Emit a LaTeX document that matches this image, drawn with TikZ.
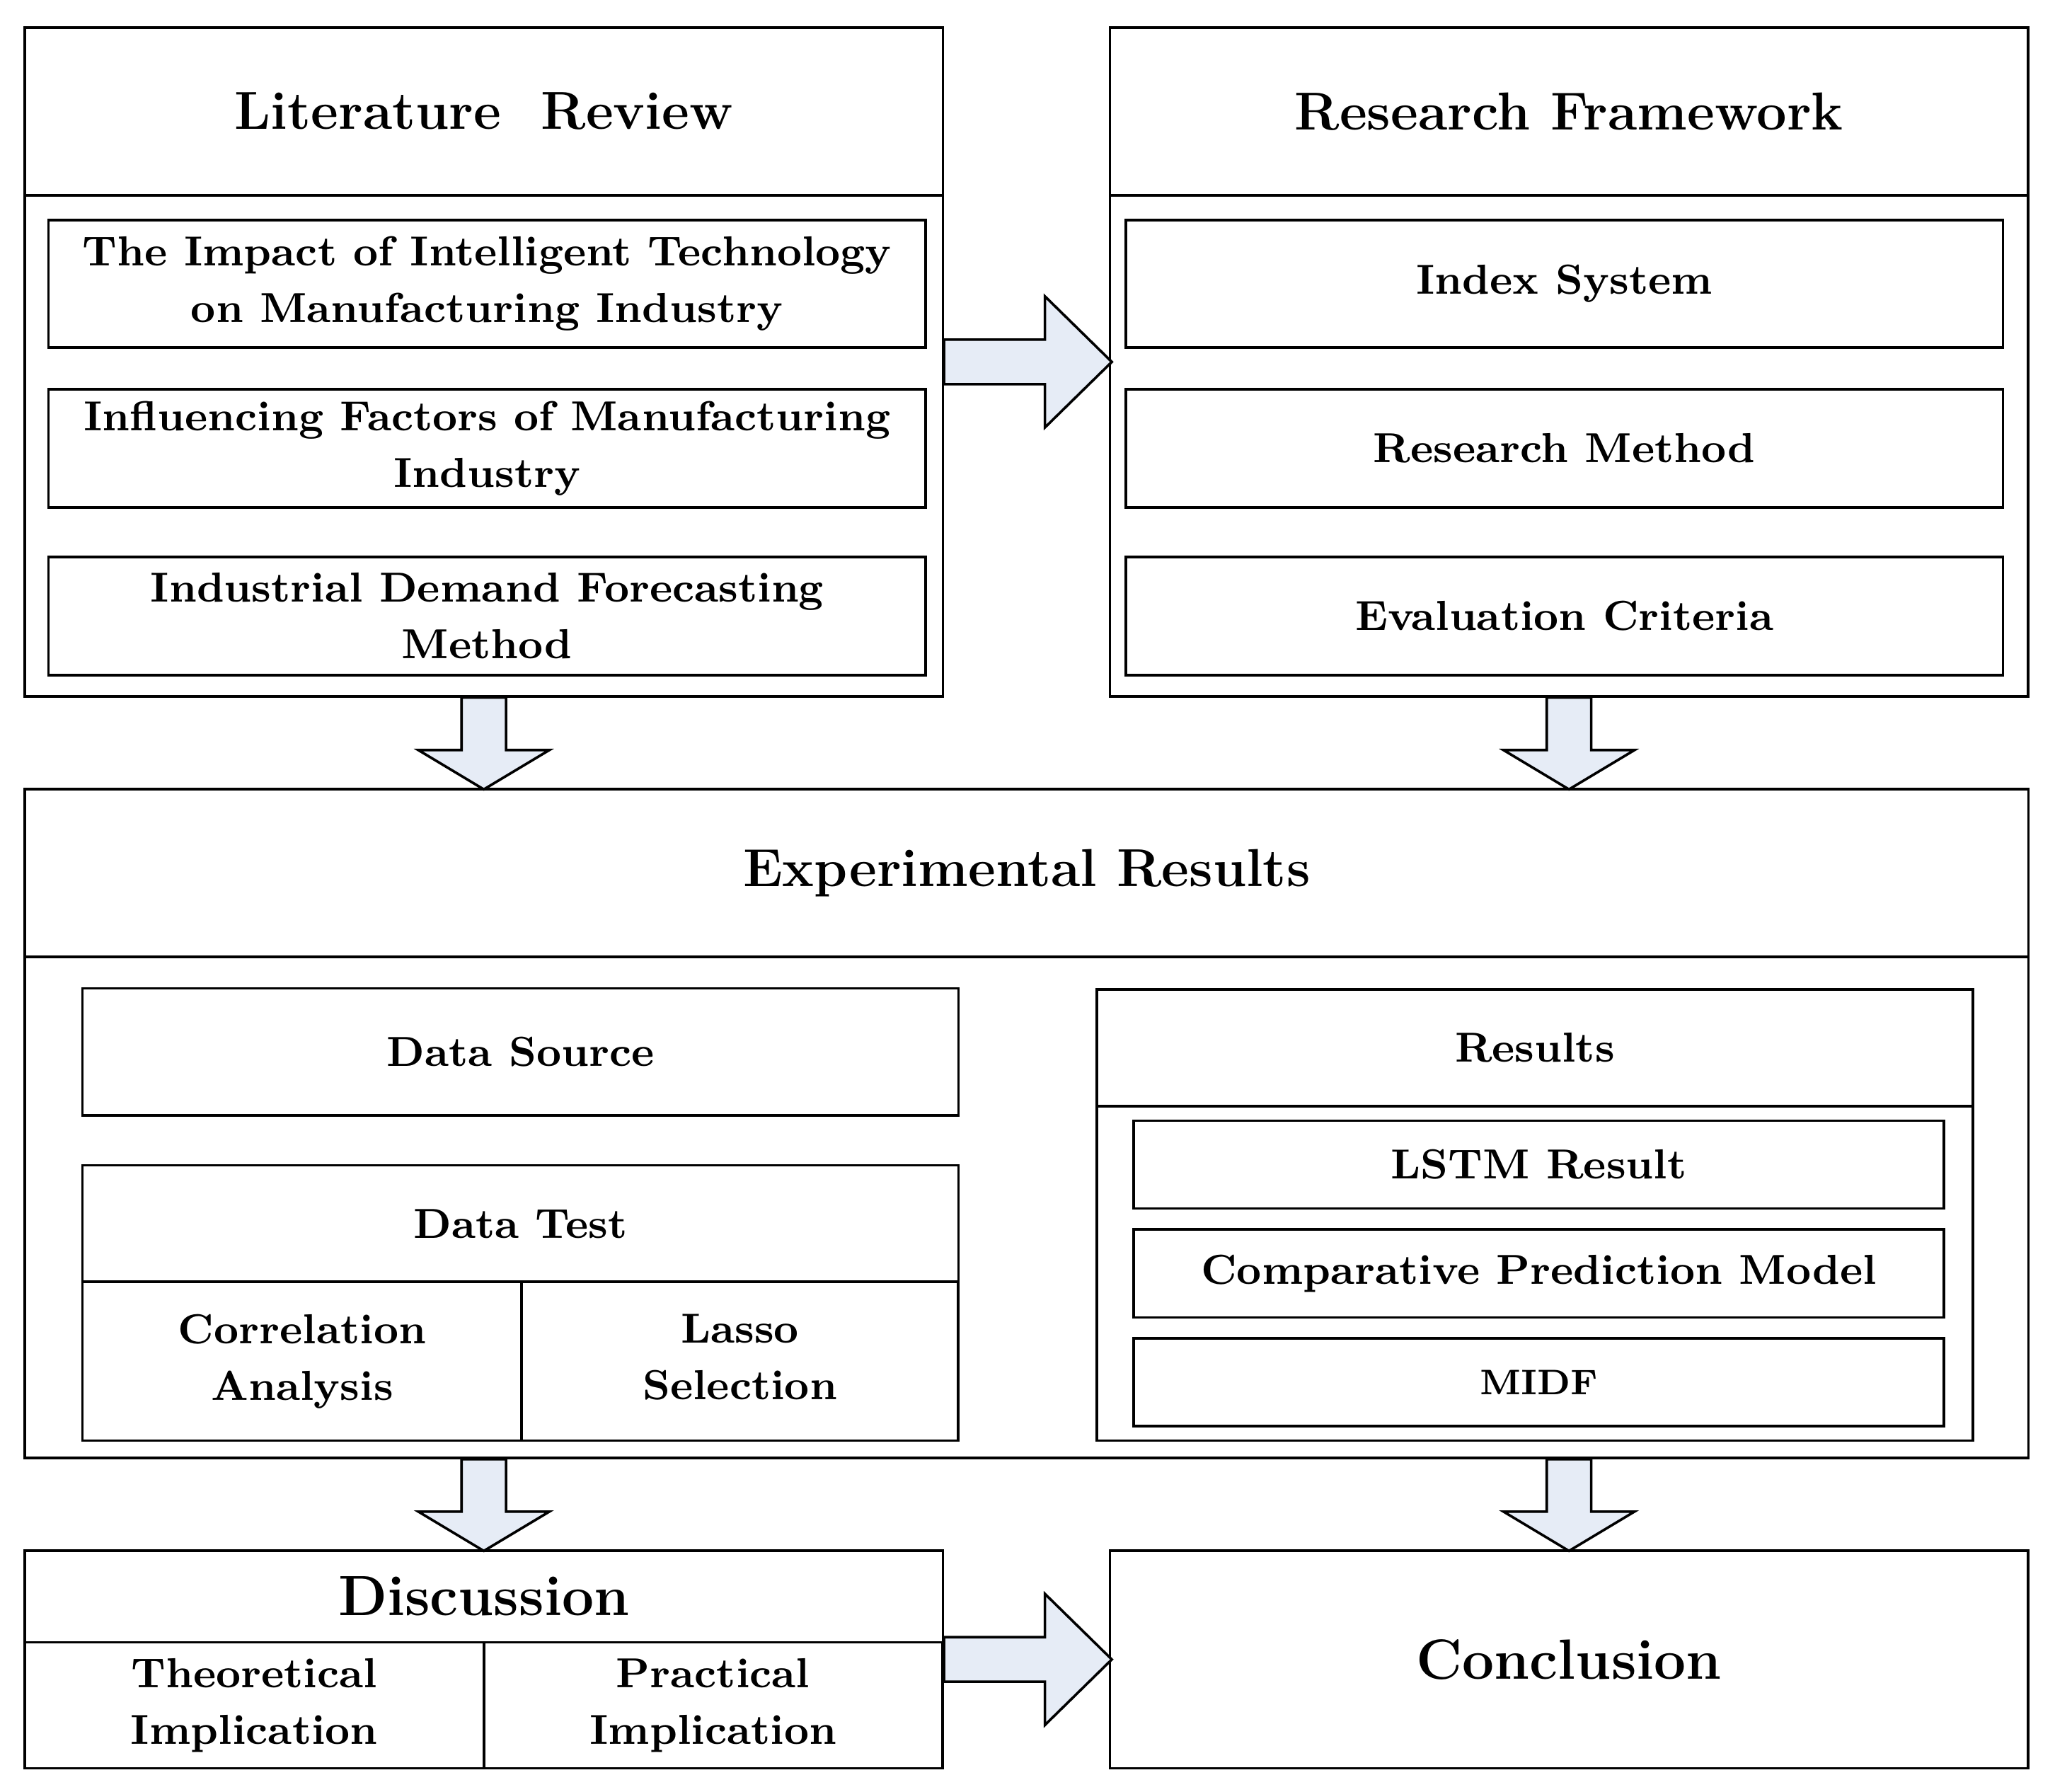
\documentclass[tikz,border=0pt]{standalone}
\usepackage{tikz,xcolor}
\usetikzlibrary{calc}
\definecolor{arrowblue}{RGB}{230,236,246}
\newcommand{\itemfont}{\fontsize{9.1}{12.3}\selectfont\bfseries}
\newcommand{\smallitemfont}{\fontsize{7.7}{10}\selectfont\bfseries}
\newcommand{\headfont}{\fontsize{11.6}{14}\selectfont\bfseries}
\newcommand{\bigheadfont}{\fontsize{12.3}{15}\selectfont\bfseries}
\tikzstyle{outer} = [draw, inner sep=0pt, anchor=north west]
\tikzstyle{headbox} = [draw, inner sep=0pt, anchor=north west, font=\headfont]
\tikzstyle{item} = [draw, align=center, inner sep=0pt, anchor=north west, font=\itemfont]
\tikzstyle{fatarrow} = [draw, fill=arrowblue, line join=miter]
\newcommand{\rightblock}[1]{\draw[fatarrow] (#1) +(0,-17) -- +(77,-17) -- +(77,-50) -- +(128,0) -- +(77,50) -- +(77,17) -- +(0,17) -- cycle;}
\newcommand{\downblock}[1]{\draw[fatarrow] (#1) +(-17,0) -- +(17,0) -- +(17,40) -- +(50,40) -- +(0,70) -- +(-50,40) -- +(-17,40) -- cycle;}
\begin{document}
\begin{tikzpicture}[x=0.01cm, y=-0.01cm, line width=0.55pt]
\useasboundingbox (0,0) rectangle (1568,1367);
% literature review
\node[outer, minimum width=7cm, minimum height=5.1cm] (lit) at (18,20) {};
\node[headbox, minimum width=7cm, minimum height=1.28cm] (littitle) at (18,20) {Literature\ \ Review};
\node[item, minimum width=6.69cm, minimum height=0.97cm] (impact) at (36,167)
    {The Impact of Intelligent Technology\\on Manufacturing Industry};
\node[item, minimum width=6.69cm, minimum height=0.9cm] (factors) at (36,296)
    {Influencing Factors of Manufacturing\\Industry};
\node[item, minimum width=6.69cm, minimum height=0.9cm] (forecast) at (36,424)
    {Industrial Demand Forecasting\\Method};
% research framework
\node[outer, minimum width=7cm, minimum height=5.1cm] (frame) at (846,20) {};
\node[headbox, minimum width=7cm, minimum height=1.28cm] (frametitle) at (846,20) {Research Framework};
\node[item, minimum width=6.69cm, minimum height=0.97cm] (index) at (858,167) {Index System};
\node[item, minimum width=6.69cm, minimum height=0.9cm] (method) at (858,296) {Research Method};
\node[item, minimum width=6.69cm, minimum height=0.9cm] (criteria) at (858,424) {Evaluation Criteria};
% experimental results
\node[outer, minimum width=15.28cm, minimum height=5.1cm] (exp) at (18,601) {};
\node[headbox, minimum width=15.28cm, minimum height=1.28cm] (exptitle) at (18,601) {Experimental Results};
\node[item, minimum width=6.68cm, minimum height=0.97cm] (source) at (62,753) {Data Source};
\node[outer, minimum width=6.68cm, minimum height=2.1cm] (test) at (62,888) {};
\node[item, minimum width=6.68cm, minimum height=0.89cm] (testtitle) at (62,888) {Data Test};
\node[item, minimum width=3.35cm, minimum height=1.21cm] (corr) at (62,977) {Correlation\\Analysis};
\node[item, minimum width=3.33cm, minimum height=1.21cm] (lasso) at (397,977) {Lasso\\Selection\vphantom{y}};
\node[outer, minimum width=6.68cm, minimum height=3.44cm] (res) at (836,754) {};
\node[item, minimum width=6.68cm, minimum height=0.89cm] (restitle) at (836,754) {Results};
\node[item, minimum width=6.18cm, minimum height=0.67cm] (lstm) at (864,854) {LSTM Result};
\node[item, minimum width=6.18cm, minimum height=0.67cm] (comp) at (864,937) {Comparative Prediction Model};
\node[item, minimum width=6.18cm, minimum height=0.67cm, font=\smallitemfont] (midf) at (864,1020) {MIDF};
% discussion and conclusion
\node[outer, minimum width=7cm, minimum height=1.66cm] (disc) at (18,1182) {};
\node[headbox, minimum width=7cm, minimum height=0.7cm, font=\bigheadfont] (disctitle) at (18,1182) {Discussion};
\node[item, minimum width=3.5cm, minimum height=0.96cm] (theory) at (18,1252) {Theoretical\\Implication};
\node[item, minimum width=3.5cm, minimum height=0.96cm] (practice) at (368,1252) {Practical\\Implication};
\node[outer, minimum width=7cm, minimum height=1.66cm, font=\bigheadfont] (concl) at (846,1182) {Conclusion};
% block arrows
\rightblock{lit.east}
\rightblock{disc.east}
\downblock{lit.south}
\downblock{frame.south}
\downblock{disc.north |- exp.south}
\downblock{concl.north |- exp.south}
\end{tikzpicture}
\end{document}
